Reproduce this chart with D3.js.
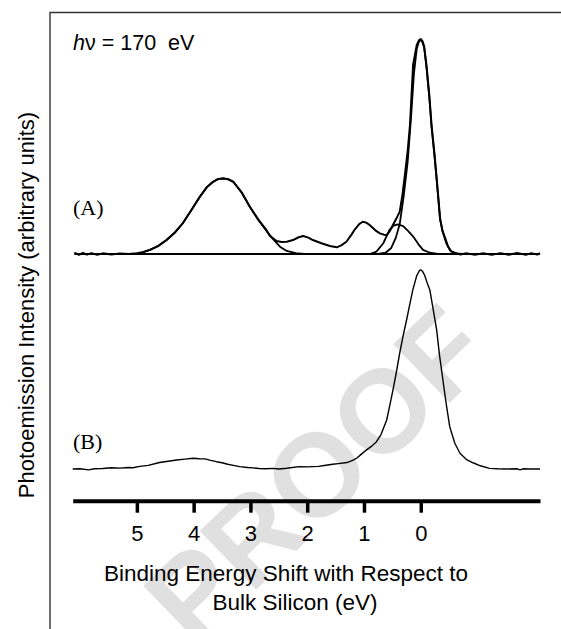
<!DOCTYPE html>
<meta charset="utf-8">
<script src="https://cdn.jsdelivr.net/npm/d3@7"></script>
<style>
body { margin: 0; background: #fff; }
.frame { stroke: #333; stroke-width: 1.4; fill: none; }
.spec { fill: none; stroke: #000; stroke-linejoin: round; }
.axis--x path { stroke: #000; stroke-width: 4; }
.axis--x line { stroke: #000; stroke-width: 3.5; }
.axis--x text { font-family: Arial, "Liberation Sans", sans-serif; font-size: 22px; fill: #000; }
.lbl { font-family: Arial, "Liberation Sans", sans-serif; font-size: 22.5px; fill: #000; }
.tag { font-family: "Times New Roman", "Liberation Serif", serif; font-size: 22px; fill: #000; }
</style>
<body>
<script>

var width = 561
var height = 629

// tick values on the energy axis (eV)
var energyTicks = [5, 4, 3, 2, 1, 0]

// offset of spectrum (A) above spectrum (B), intensity units
var offsetA = 1.0

// spectrum (A): measured data [eV, intensity]
var specA = [[6.10,0.006],[6.02,-0.004],[5.95,0.005],[5.88,-0.003],[5.80,0.004],[5.70,-0.004],[5.60,0.003],[5.45,-0.002],[5.30,0.002],[5.15,0.000],[5.00,0.003],[4.90,0.008],[4.77,0.019],[4.62,0.038],[4.48,0.065],[4.33,0.100],[4.19,0.144],[4.04,0.205],[3.89,0.267],[3.77,0.310],[3.66,0.336],[3.57,0.349],[3.48,0.352],[3.39,0.348],[3.30,0.336],[3.15,0.285],[3.01,0.220],[2.86,0.160],[2.72,0.112],[2.66,0.085],[2.54,0.060],[2.45,0.056],[2.36,0.057],[2.25,0.065],[2.15,0.078],[2.07,0.084],[1.98,0.076],[1.90,0.065],[1.75,0.050],[1.60,0.037],[1.48,0.031],[1.40,0.040],[1.31,0.057],[1.22,0.090],[1.16,0.115],[1.08,0.140],[1.02,0.150],[0.96,0.146],[0.90,0.135],[0.80,0.110],[0.72,0.096],[0.65,0.090],[0.60,0.088],[0.55,0.105],[0.49,0.135],[0.46,0.150],[0.41,0.175],[0.37,0.197],[0.32,0.28],[0.28,0.367],[0.23,0.48],[0.19,0.60],[0.135,0.879],[0.10,0.93],[0.07,0.972],[0.03,0.995],[0.00,1.000],[-0.03,0.99],[-0.06,0.965],[-0.10,0.879],[-0.15,0.74],[-0.19,0.60],[-0.24,0.47],[-0.28,0.353],[-0.34,0.167],[-0.38,0.11],[-0.43,0.074],[-0.48,0.035],[-0.54,0.011],[-0.62,0.004],[-0.70,-0.003],[-0.80,0.004],[-0.95,-0.004],[-1.10,0.003],[-1.25,-0.004],[-1.40,0.004],[-1.55,-0.003],[-1.70,0.005],[-1.85,-0.004],[-1.95,0.004],[-2.05,-0.003],[-2.10,0.004]]

// spectrum (A): fitted components
var compOxide = [[5.00,0.0],[4.90,0.008],[4.77,0.019],[4.62,0.038],[4.48,0.064],[4.33,0.100],[4.19,0.143],[4.04,0.204],[3.89,0.266],[3.77,0.310],[3.66,0.335],[3.57,0.348],[3.48,0.351],[3.39,0.347],[3.30,0.335],[3.15,0.284],[3.01,0.219],[2.86,0.158],[2.72,0.108],[2.62,0.075],[2.48,0.034],[2.36,0.014],[2.20,0.004],[2.05,0.0]]
var compInterface = [[0.90,0.0],[0.78,0.011],[0.66,0.050],[0.55,0.112],[0.47,0.133],[0.40,0.138],[0.31,0.130],[0.22,0.106],[0.13,0.080],[0.04,0.045],[-0.04,0.019],[-0.16,0.006],[-0.30,0.0]]
var compBulk = [[0.75,0.0],[0.62,0.006],[0.52,0.028],[0.44,0.075],[0.37,0.14],[0.30,0.27],[0.23,0.43],[0.17,0.64],[0.12,0.84],[0.07,0.955],[0.03,0.99],[0.00,0.995],[-0.03,0.985],[-0.06,0.96],[-0.10,0.87],[-0.15,0.73],[-0.19,0.59],[-0.24,0.46],[-0.28,0.345],[-0.34,0.16],[-0.39,0.10],[-0.45,0.05],[-0.52,0.015],[-0.62,0.003],[-0.75,0.0]]
var baselineA = [[6.10,0],[-2.10,0]]

// spectrum (B): measured data [eV, intensity]
var specB = [[6.13,0.0],[6.0,0.001],[5.85,-0.004],[5.75,0.001],[5.6,0.002],[5.45,0.006],[5.3,0.004],[5.15,0.007],[5.07,0.006],[4.95,0.012],[4.8,0.017],[4.6,0.030],[4.45,0.036],[4.3,0.042],[4.15,0.046],[4.01,0.050],[3.9,0.048],[3.8,0.047],[3.7,0.040],[3.6,0.034],[3.5,0.029],[3.4,0.022],[3.3,0.017],[3.19,0.011],[3.05,0.007],[2.95,0.005],[2.85,0.002],[2.72,0.001],[2.6,0.003],[2.5,0.0],[2.4,0.002],[2.3,0.006],[2.13,0.011],[2.0,0.010],[1.8,0.012],[1.7,0.016],[1.55,0.022],[1.45,0.025],[1.3,0.030],[1.2,0.040],[1.13,0.050],[1.05,0.068],[0.96,0.088],[0.87,0.105],[0.78,0.127],[0.70,0.160],[0.6,0.228],[0.55,0.29],[0.49,0.367],[0.43,0.45],[0.37,0.54],[0.31,0.62],[0.25,0.693],[0.19,0.77],[0.14,0.833],[0.07,0.9],[0.02,0.924],[0.0,0.926],[-0.03,0.92],[-0.07,0.9],[-0.12,0.86],[-0.16,0.833],[-0.22,0.74],[-0.28,0.647],[-0.33,0.53],[-0.39,0.414],[-0.45,0.30],[-0.51,0.197],[-0.6,0.12],[-0.69,0.073],[-0.8,0.045],[-0.92,0.029],[-1.05,0.015],[-1.21,0.003],[-1.35,0.001],[-1.5,0.0],[-1.7,0.001],[-1.75,-0.004],[-1.8,0.001],[-1.9,0.0],[-2.1,0.0]]

var svg = d3.select("body").append("svg")
    .attr("width", width)
    .attr("height", height)
    .style("display", "block")

svg.append("rect").attr("width", width).attr("height", height).attr("fill", "#fff")

// watermark (runs off the bottom edge, as in the original)
svg.append("text")
    .attr("transform", "translate(315,473) rotate(-44)")
    .attr("y", 43)
    .attr("text-anchor", "middle")
    .style("font-family", "Arial, 'Liberation Sans', sans-serif")
    .style("font-weight", "bold")
    .style("font-size", "118px")
    .style("fill", "#e0e0e0")
    .text("PROOF")

// frame (left and top edges)
svg.append("path").attr("class", "frame").attr("d", "M50," + height + "V12.5H" + width)

var x = d3.scaleLinear().domain([6.13, -2.1]).range([72.7, 540])
var y = d3.scaleLinear().domain([0, 2]).range([469, 39])

function draw(data, off, w) {
  svg.append("path")
      .datum(data)
      .attr("class", "spec")
      .attr("stroke-width", w)
      .attr("d", d3.line()
          .x(function(d) { return x(d[0]); })
          .y(function(d) { return y(d[1] + off); }))
}

draw(baselineA, offsetA, 1.8)
draw(compOxide, offsetA, 1.8)
draw(compInterface, offsetA, 1.8)
draw(compBulk, offsetA, 1.8)
draw(specA, offsetA, 2)
draw(specB, 0, 1.4)

svg.append("g")
    .attr("class", "axis axis--x")
    .attr("transform", "translate(0,500.7)")
    .call(d3.axisBottom(x).tickValues(energyTicks).tickSizeInner(12).tickSizeOuter(0).tickPadding(12.5))

// text
var hv = svg.append("text").attr("class", "lbl").attr("x", 73).attr("y", 50)
    .attr("xml:space", "preserve").style("font-size", "21.5px")
hv.append("tspan").style("font-style", "italic").text("h")
hv.append("tspan").text("ν = 170  eV")

svg.append("text").attr("class", "tag").attr("x", 73).attr("y", 215).text("(A)")
svg.append("text").attr("class", "tag").attr("x", 73).attr("y", 449).text("(B)")

svg.append("text").attr("class", "lbl")
    .attr("transform", "translate(34,305) rotate(-90)")
    .attr("text-anchor", "middle")
    .style("font-size", "22px")
    .text("Photoemission Intensity (arbitrary units)")

svg.append("text").attr("class", "lbl").attr("x", 286).attr("y", 581).attr("text-anchor", "middle")
    .text("Binding Energy Shift with Respect to")
svg.append("text").attr("class", "lbl").attr("x", 295).attr("y", 610).attr("text-anchor", "middle")
    .text("Bulk Silicon (eV)")

</script>
</body>
